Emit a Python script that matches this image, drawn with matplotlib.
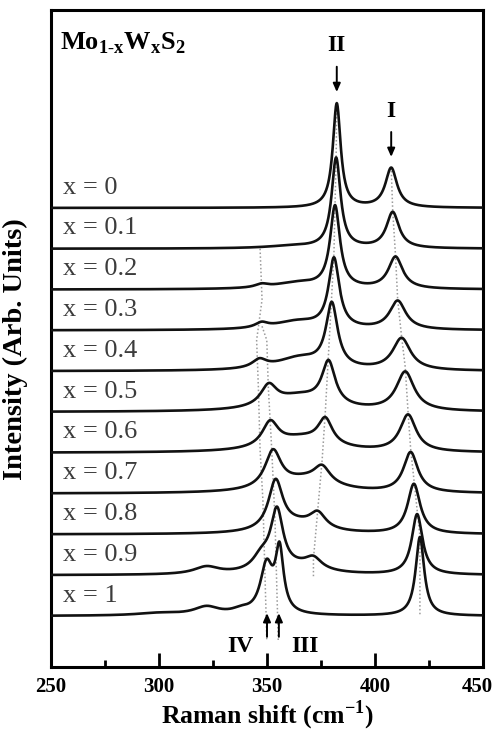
import numpy as np
import matplotlib
matplotlib.use("Agg")
import matplotlib.pyplot as plt
from matplotlib.ticker import MultipleLocator
from matplotlib.transforms import ScaledTranslation

plt.rcParams['font.family'] = ['Liberation Serif', 'DejaVu Serif']
plt.rcParams['mathtext.fontset'] = 'custom'
plt.rcParams['mathtext.rm'] = 'Liberation Serif'
plt.rcParams['mathtext.bf'] = 'Liberation Serif:bold'

# compositions, top to bottom
x_labels = ['x = 0', 'x = 0.1', 'x = 0.2', 'x = 0.3', 'x = 0.4', 'x = 0.5',
            'x = 0.6', 'x = 0.7', 'x = 0.8', 'x = 0.9', 'x = 1']
shift_ticks = [250, 300, 350, 400, 450]

# Raman bands: (centre cm-1, height, fwhm cm-1)
peaks_00 = [(382.3, 2.55, 4.4), (407.5, 0.97, 6.5)]
peaks_01 = [(382.0, 2.2, 5.0), (408.2, 0.88, 7.0), (362.0, 0.06, 30.0)]
peaks_02 = [(381.5, 2.0, 5.5), (409.5, 0.78, 8.0), (347.5, 0.08, 7.0),
            (364.0, 0.15, 26.0)]
peaks_03 = [(381.0, 1.7, 6.0), (410.5, 0.70, 9.0), (347.5, 0.12, 7.0),
            (364.0, 0.20, 26.0)]
peaks_04 = [(380.0, 1.55, 6.5), (412.3, 0.78, 10.0), (346.5, 0.20, 8.0),
            (365.0, 0.30, 26.0)]
peaks_05 = [(378.5, 1.05, 7.5), (414.0, 0.95, 10.0), (350.8, 0.50, 9.0),
            (365.0, 0.35, 30.0)]
peaks_06 = [(377.0, 0.62, 8.0), (415.3, 0.90, 9.0), (351.5, 0.60, 9.0),
            (366.0, 0.33, 32.0)]
peaks_07 = [(375.5, 0.40, 9.0), (416.5, 0.98, 8.0), (352.8, 0.90, 9.0),
            (368.0, 0.32, 32.0)]
peaks_08 = [(373.5, 0.38, 9.0), (418.0, 1.22, 7.0), (354.0, 1.20, 8.0),
            (364.0, 0.22, 26.0)]
peaks_09 = [(371.5, 0.26, 9.0), (419.5, 1.48, 6.0), (354.6, 1.45, 7.0),
            (347.5, 0.35, 10.0), (322.0, 0.18, 14.0), (366.0, 0.16, 25.0)]
peaks_10 = [(355.8, 1.50, 4.5), (349.8, 1.18, 7.0), (420.8, 1.93, 4.8),
            (338.0, 0.10, 10.0), (322.0, 0.20, 14.0), (300.0, 0.06, 25.0)]
all_peaks = [peaks_00, peaks_01, peaks_02, peaks_03, peaks_04, peaks_05,
             peaks_06, peaks_07, peaks_08, peaks_09, peaks_10]

# dotted guide lines (cm-1, intensity level)
line_I_x = [407.5, 408.2, 409.5, 410.5, 412.3, 414.0, 415.3, 416.5, 418.0,
            419.5, 420.8, 420.8]
line_I_y = [11.0, 9.93, 8.83, 7.75, 6.85, 6.1, 5.0, 4.1, 3.35, 2.6, 1.95, 0.0]
line_II_x = [382.3, 382.0, 381.5, 381.0, 380.0, 378.5, 377.0, 375.5, 373.5,
             371.5, 371.5]
line_II_y = [12.6, 11.2, 10.1, 8.9, 7.9, 6.45, 5.0, 3.8, 2.6, 1.4, 0.95]
line_IV_x = [346.8, 347.7, 345.2, 346.0, 346.8, 348.1, 349.9]
line_IV_y = [9.0, 7.75, 6.76, 5.61, 4.07, 2.84, -0.59]
line_III_x = [347.7, 349.9, 350.6, 352.2, 353.7, 355.2]
line_III_y = [7.1, 6.76, 5.61, 4.07, 2.35, -0.59]


def spectrum(shift, peaks):
    y = np.zeros_like(shift)
    for centre, height, fwhm in peaks:
        y += height / (1.0 + ((shift - centre) / (fwhm / 2.0)) ** 2)
    return y


fig = plt.figure(figsize=(4.95, 7.33), dpi=100)
ax = fig.add_axes([51 / 495, 1 - 667 / 733, 432 / 495, 657 / 733])

shift = np.linspace(250, 450, 2001)
n = len(all_peaks)

guide = dict(color='#9a9a9a', linestyle=(0, (1, 1.5)), linewidth=1.1, zorder=1)
ax.plot(line_I_x, line_I_y, **guide)
ax.plot(line_II_x, line_II_y, **guide)
ax.plot(line_IV_x, line_IV_y, **guide)
ax.plot(line_III_x, line_III_y, **guide)

for i, (peaks, label) in enumerate(zip(all_peaks, x_labels)):
    offset = n - 1 - i
    ax.plot(shift, offset + spectrum(shift, peaks), color='#111111',
            linewidth=1.9, zorder=3)
    ax.text(255.5, offset + 0.5, label, fontsize=19, color='#3c3c3c',
            va='center', ha='left')

ax.text(254.2, 13.87, r'Mo$_{\mathbf{1\text{-}x}}$W$_{\mathbf{x}}$S$_{\mathbf{2}}$',
        fontsize=19, fontweight='bold', va='baseline', ha='left')

arrow = dict(arrowstyle='-|>,head_length=0.5,head_width=0.22', color='black',
             linewidth=1.4, shrinkA=0, shrinkB=0)
ax.annotate('', xy=(382.3, 12.84), xytext=(382.3, 13.46), arrowprops=arrow)
ax.annotate('', xy=(407.5, 11.25), xytext=(407.5, 11.86), arrowprops=arrow)
ax.annotate('', xy=(350.0, 0.07), xytext=(350.0, -0.51), arrowprops=arrow)
ax.annotate('', xy=(355.5, 0.07), xytext=(355.5, -0.51), arrowprops=arrow)
ax.text(382.3, 13.98, 'II', fontsize=17, fontweight='bold', ha='center', va='center')
ax.text(407.5, 12.36, 'I', fontsize=17, fontweight='bold', ha='center', va='center')
ax.text(337.5, -0.74, 'IV', fontsize=17, fontweight='bold', ha='center', va='center')
ax.text(367.6, -0.74, 'III', fontsize=17, fontweight='bold', ha='center', va='center')

ax.set_xlim(250, 450)
ax.set_ylim(-1.25, 14.85)
ax.set_xticks(shift_ticks)
ax.xaxis.set_minor_locator(MultipleLocator(25))
ax.tick_params(axis='x', which='both', direction='in', top=False, width=2,
               labelsize=15, pad=7)
ax.tick_params(axis='x', which='major', length=10)
ax.tick_params(axis='x', which='minor', length=5)
ax.set_yticks([])
ticklabels = ax.get_xticklabels()
for lab in ticklabels:
    lab.set_fontweight('bold')
# keep the last label inside the canvas
last = ticklabels[-1]
last.set_transform(last.get_transform()
                   + ScaledTranslation(-4 / 72, 0, fig.dpi_scale_trans))
for spine in ax.spines.values():
    spine.set_linewidth(2.2)

fig.text(15 / 495, 1 - 349 / 733, 'Intensity (Arb. Units)', rotation=90,
         fontsize=20.5, fontweight='bold', ha='center', va='center')
fig.text(267 / 495, 1 - 699 / 733, r'Raman shift (cm$^{\mathbf{-1}}$)',
         fontsize=18.5, fontweight='bold', ha='center', va='top')

fig.savefig('out.png', dpi=100)
